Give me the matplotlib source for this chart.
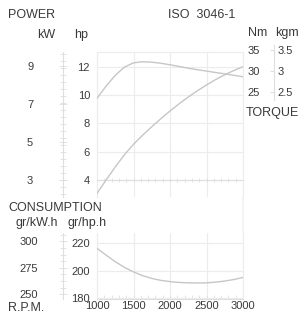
import matplotlib
matplotlib.use("Agg")
import matplotlib.pyplot as plt
from matplotlib.patches import ConnectionPatch
from matplotlib.ticker import MultipleLocator

# ---------------- data ----------------
rpm = [1000, 1125, 1250, 1375, 1500, 1625, 1750, 1875, 2000,
       2125, 2250, 2375, 2500, 2625, 2750, 2875, 3000]
power_hp = [3.06, 4.00, 4.92, 5.78, 6.52, 7.16, 7.76, 8.33, 8.87,
            9.38, 9.86, 10.30, 10.71, 11.09, 11.43, 11.73, 12.00]
torque_nm = [23.65, 26.5, 29.0, 30.9, 31.9, 32.15, 32.05, 31.8, 31.45,
             31.05, 30.65, 30.3, 29.98, 29.65, 29.33, 29.0, 28.67]
consumption_ghph = [216.2, 211.3, 206.6, 202.5, 199.2, 196.5, 194.5, 193.1, 192.2,
                    191.6, 191.3, 191.2, 191.3, 191.8, 192.6, 193.7, 195.2]

rpm_ticks = [1000, 1500, 2000, 2500, 3000]
hp_ticks = [4, 6, 8, 10, 12]
kw_ticks = [3, 5, 7, 9]
nm_ticks = [25, 30, 35]
kgm_ticks = [2.5, 3, 3.5]
kgm_labels = ["2.5", "3", "3.5"]
cons_hp_ticks = [180, 200, 220]
cons_kw_ticks = [250, 275, 300]

# ---------------- style ----------------
W, H = 299, 322
TXT = "#3a3a3a"
CURVE = "#c6c6c6"
GRID = "#ececec"
SPINE = "#dedede"
FS = 8      # tick labels
FH = 9      # headers
plt.rcParams["font.family"] = ["Liberation Sans", "DejaVu Sans"]
plt.rcParams["font.size"] = FS

fig = plt.figure(figsize=(W / 100, H / 100), dpi=100)
fig.patch.set_facecolor("white")


def box(x0, y0, x1, y1):
    return [x0 / W, 1 - y1 / H, (x1 - x0) / W, (y1 - y0) / H]


def ptext(x, y, s, ha="left", va="center", **kw):
    fig.text(x / W, 1 - y / H, s, ha=ha, va=va, color=TXT, fontsize=FH, **kw)


# ---- upper panel: power (hp) ----
X0, X1 = 97, 243
TOP, BOT = 52, 197
px_hp = 14.16  # px per hp, hp 12 at y=66.7
hp_top = 12 + (66.7 - TOP) / px_hp
hp_bot = 12 - (BOT - 66.7) / px_hp

ax = fig.add_axes(box(X0, TOP, X1, BOT))
ax.set_xlim(1000, 3000)
ax.set_ylim(hp_bot, hp_top)
ax.set_facecolor("none")
ax.plot(rpm, power_hp, color=CURVE, lw=1.0, zorder=3)
ax.set_xticks(rpm_ticks)
ax.xaxis.set_minor_locator(MultipleLocator(100))
ax.set_yticks(hp_ticks)
ax.grid(True, color=GRID, lw=0.8)
for s in ["left", "right", "top"]:
    ax.spines[s].set_color(GRID)
    ax.spines[s].set_linewidth(0.8)
ax.spines["bottom"].set_position(("data", 4))
ax.spines["bottom"].set_color(SPINE)
ax.spines["bottom"].set_linewidth(0.8)
ax.tick_params(axis="x", which="both", direction="inout", length=3, color=SPINE,
               labelbottom=False, width=0.6)
ax.tick_params(axis="y", length=0, pad=5, labelcolor=TXT, labelsize=FS)

# kW secondary axis at x=63
kw_loc = (63 - X0) / (X1 - X0)
sec = ax.secondary_yaxis(kw_loc, functions=(lambda h: h * 0.7457, lambda k: k / 0.7457))
sec.set_yticks(kw_ticks)
sec.yaxis.set_minor_locator(MultipleLocator(0.37))
sec.spines["left"].set_color(SPINE)
sec.spines["left"].set_linewidth(0.8)
sec.tick_params(axis="y", which="major", direction="inout", length=6, color=SPINE,
                pad=18.5, labelcolor=TXT, labelsize=FS, width=0.6)
sec.tick_params(axis="y", which="minor", direction="inout", length=4, color=SPINE, width=0.6)

# ---- torque (Nm) ----
TT = 45
px_nm = 4.3  # px per Nm, 30 Nm at y=71
nm_top = 30 + (71 - TT) / px_nm
nm_bot = 30 - (BOT - 71) / px_nm
axt = fig.add_axes(box(X0, TT, X1, BOT))
axt.set_xlim(1000, 3000)
axt.set_ylim(nm_bot, nm_top)
axt.patch.set_visible(False)
for s in axt.spines.values():
    s.set_visible(False)
axt.plot(rpm, torque_nm, color=CURVE, lw=1.0, zorder=3)
axt.set_xticks([])
axt.yaxis.tick_right()
axt.set_yticks(nm_ticks)
axt.tick_params(axis="y", length=0, pad=3, labelcolor=TXT, labelsize=FS)

# kgm axis at x=273
KB = 100
axk = fig.add_axes(box(273, TT, 273.5, KB))
axk.set_ylim((30 - (KB - 71) / px_nm) / 10, nm_top / 10)
axk.patch.set_visible(False)
for s in ["left", "top", "bottom"]:
    axk.spines[s].set_visible(False)
axk.spines["right"].set_color(SPINE)
axk.spines["right"].set_linewidth(0.8)
axk.set_xticks([])
axk.yaxis.tick_right()
axk.set_yticks(kgm_ticks)
axk.set_yticklabels(kgm_labels)
axk.tick_params(axis="y", direction="in", length=3, color=SPINE, pad=3,
                labelcolor=TXT, labelsize=FS)

# ---- lower panel: consumption ----
CT, CB = 233, 298.5
px_c = 1.385  # px per gr/hp.h, 180 at y=298.5
c_top = 180 + (CB - CT) / px_c
ax2 = fig.add_axes(box(X0, CT, X1, CB))
ax2.set_xlim(1000, 3000)
ax2.set_ylim(180, c_top)
ax2.set_facecolor("none")
ax2.plot(rpm, consumption_ghph, color=CURVE, lw=1.0, zorder=3)
ax2.set_xticks(rpm_ticks)
ax2.xaxis.set_minor_locator(MultipleLocator(100))
ax2.set_yticks(cons_hp_ticks)
ax2.grid(True, color=GRID, lw=0.8)
ax2.spines["top"].set_visible(False)
for s in ["left", "right"]:
    ax2.spines[s].set_color(GRID)
    ax2.spines[s].set_linewidth(0.8)
ax2.spines["bottom"].set_color(SPINE)
ax2.spines["bottom"].set_linewidth(0.8)
ax2.tick_params(axis="x", which="both", direction="in", length=3, color=SPINE, width=0.6,
                pad=2, labelcolor=TXT, labelsize=FS)
ax2.tick_params(axis="y", length=0, pad=5, labelcolor=TXT, labelsize=FS)

# gr/kW.h axis at x=63
axc = fig.add_axes(box(62.5, CT, 63, CB))
axc.set_ylim(250 - (CB - 294) / 1.16, 300 + (242 - CT) / 1.16)
axc.patch.set_visible(False)
for s in ["right", "top", "bottom"]:
    axc.spines[s].set_visible(False)
axc.spines["left"].set_color(SPINE)
axc.spines["left"].set_linewidth(0.8)
axc.set_xticks([])
axc.set_yticks(cons_kw_ticks)
axc.yaxis.set_minor_locator(MultipleLocator(6.25))
axc.tick_params(axis="y", which="major", direction="inout", length=6, color=SPINE,
                pad=14.5, labelcolor=TXT, labelsize=FS, width=0.6)
axc.tick_params(axis="y", which="minor", direction="inout", length=4, color=SPINE, width=0.6)

# connect the 3000 rpm line between panels
con = ConnectionPatch(xyA=(3000, hp_bot), coordsA=ax.transData,
                      xyB=(3000, c_top), coordsB=ax2.transData,
                      color=GRID, lw=0.8)
fig.add_artist(con)

# ---- texts ----
ptext(8, 15, "POWER")
ptext(46, 35, "kW", ha="center")
ptext(81, 35, "hp", ha="center")
ptext(168, 15, "ISO  3046-1")
ptext(248, 33, "Nm")
ptext(275, 33, "kgm")
ptext(246, 113, "TORQUE")
ptext(8, 208, "CONSUMPTION")
ptext(15, 223, "gr/kW.h")
ptext(68, 223, "gr/hp.h")
ptext(8, 308, "R.P.M.")

fig.savefig("out.png", dpi=100, facecolor="white")
